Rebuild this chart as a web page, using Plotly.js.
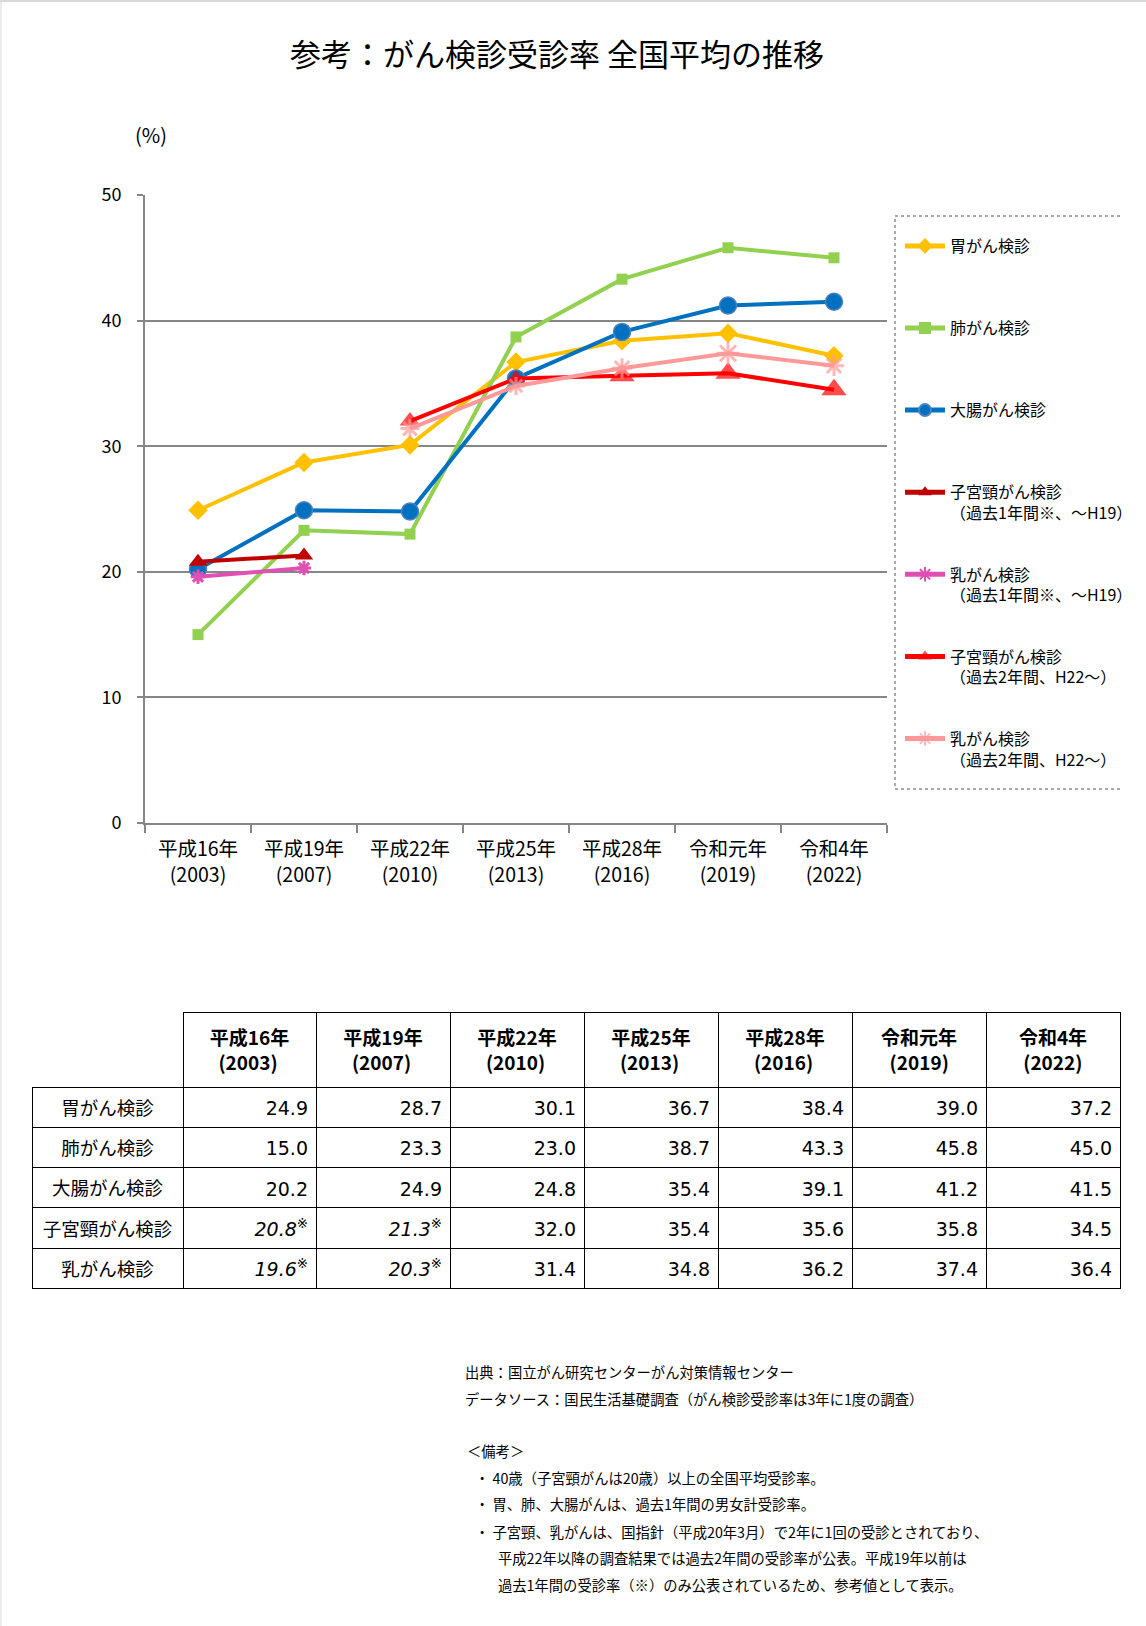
<!DOCTYPE html>
<html><head><meta charset="utf-8">
<script src="https://cdn.plot.ly/plotly-3.0.1.min.js"></script>
<style>body{margin:0;background:#fff}#chart{width:1146px;height:1626px}</style>
</head><body><div id="chart"></div>
<script>
// ---- data ----
const periodLabels = ['平成16年', '平成19年', '平成22年', '平成25年', '平成28年', '令和元年', '令和4年'];
const periodYears = ['(2003)', '(2007)', '(2010)', '(2013)', '(2016)', '(2019)', '(2022)'];
const stomach    = [24.9, 28.7, 30.1, 36.7, 38.4, 39.0, 37.2];
const lung       = [15.0, 23.3, 23.0, 38.7, 43.3, 45.8, 45.0];
const colorectal = [20.2, 24.9, 24.8, 35.4, 39.1, 41.2, 41.5];
const cervix1y   = [20.8, 21.3, null, null, null, null, null];
const breast1y   = [19.6, 20.3, null, null, null, null, null];
const cervix2y   = [null, null, 32.0, 35.4, 35.6, 35.8, 34.5];
const breast2y   = [null, null, 31.4, 34.8, 36.2, 37.4, 36.4];
const rowLabels  = ['胃がん検診', '肺がん検診', '大腸がん検診', '子宮頸がん検診', '乳がん検診'];
const legendNames = [
  '胃がん検診', '肺がん検診', '大腸がん検診',
  '子宮頸がん検診<br>（過去1年間※、～H19）',
  '乳がん検診<br>（過去1年間※、～H19）',
  '子宮頸がん検診<br>（過去2年間、H22～）',
  '乳がん検診<br>（過去2年間、H22～）'
];
const notes = [
  '出典：国立がん研究センターがん対策情報センター',
  'データソース：国民生活基礎調査（がん検診受診率は3年に1度の調査）',
  '＜備考＞',
  '・ 40歳（子宮頸がんは20歳）以上の全国平均受診率。',
  '・ 胃、肺、大腸がんは、過去1年間の男女計受診率。',
  '・ 子宮頸、乳がんは、国指針（平成20年3月）で2年に1回の受診とされており、',
  '平成22年以降の調査結果では過去2年間の受診率が公表。平成19年以前は',
  '過去1年間の受診率（※）のみ公表されているため、参考値として表示。'
];
const titleText = '参考：がん検診受診率 全国平均の推移';

// ---- layout helpers ----
const W = 1146, H = 1626;
const px = x => x / W;
const py = y => 1 - y / H;
const FONT = 'Noto Sans CJK JP, Noto Sans, sans-serif';
const NUMFONT = 'DejaVu Sans, Noto Sans CJK JP, sans-serif';

const cats = periodLabels.map((p, i) => p + '<br>' + periodYears[i]);

const seriesList = [
  {y: stomach,    color: '#FFC000', symbol: 'diamond', size: 15},
  {y: lung,       color: '#92D050', symbol: 'square', size: 11},
  {y: colorectal, color: '#0070C0', symbol: 'circle', size: 17, lineColor: '#4F81BD'},
  {y: cervix1y,   color: '#C00000', symbol: 'triangle-up', size: 16},
  {y: breast1y,   color: '#E050B4', symbol: 'asterisk-open', size: 12},
  {y: cervix2y,   color: '#FF0000', symbol: 'triangle-up', size: [0, 0, 18, 17, 22, 22, 22]},
  {y: breast2y,   color: '#FF9999', symbol: 'asterisk-open', size: [0, 0, 16, 15, 17, 19, 17]}
];

const traces = seriesList.map((s, i) => {
  const isAst = s.symbol.indexOf('asterisk') === 0;
  const nm = legendNames[i].indexOf('<br>') < 0 ? legendNames[i] + '<br>\u00a0' : legendNames[i];
  return {
    type: 'scatter', mode: 'lines+markers', x: cats, y: s.y, name: nm,
    legendgroup: 'g' + i, connectgaps: false, cliponaxis: false,
    line: {color: s.color, width: 4},
    marker: {symbol: s.symbol, size: s.size, color: s.color,
      line: {color: isAst ? s.color : (s.lineColor || s.color), width: isAst ? 3 : (s.lineColor ? 1.5 : 0)}},
    xaxis: 'x', yaxis: 'y', hoverinfo: 'skip'
  };
});

// ---- table ----
const HDR_SIZE = 19;
const ctx = document.createElement('canvas').getContext('2d');
ctx.font = 'bold ' + HDR_SIZE + 'px "Noto Sans CJK JP"';
const nbspW = ctx.measureText('\u00a0').width || HDR_SIZE * 0.25;
function centredHeader(a, b) {
  const diff = ctx.measureText(a).width - ctx.measureText(b).width;
  const n = Math.max(0, Math.round(diff / 2 / nbspW));
  return '<b>' + a + '<br>' + '\u00a0'.repeat(n) + b + '</b>';
}
// invisible raised glyph: pushes the number text down towards the vertical centre
const LIFT = '<sup>\u2800</sup>';
function fmt(v, isRef) {
  const t = v.toFixed(1);
  return LIFT + (isRef ? '<i>' + t + '</i><sup>※</sup>' : t);
}
const blankCol = rowLabels.map(() => '');
const cellCols = [blankCol];
for (let i = 0; i < periodLabels.length; i++) {
  const cv = cervix2y[i] !== null ? fmt(cervix2y[i], false) : fmt(cervix1y[i], true);
  const bv = breast2y[i] !== null ? fmt(breast2y[i], false) : fmt(breast1y[i], true);
  cellCols.push([fmt(stomach[i], false), fmt(lung[i], false), fmt(colorectal[i], false), cv, bv]);
}
const headerVals = [''].concat(periodLabels.map((p, i) => centredHeader(p, periodYears[i])));
const headerBlank = headerVals.map(() => '');
const headerLine = ['rgba(0,0,0,0)'].concat(periodLabels.map(() => '#000'));
const colWidths = [151, 133, 134, 134, 134, 134, 134, 134];
const numAlign = ['center'].concat(periodLabels.map(() => 'right'));

// grid + numbers
traces.push({
  type: 'table',
  domain: {x: [px(32), px(1120)], y: [py(1330), py(1012)]},
  columnwidth: colWidths,
  header: {
    values: headerBlank, align: 'center', height: 75,
    fill: {color: '#fff'},
    line: {color: headerLine, width: 1},
    font: {family: FONT, size: HDR_SIZE, color: '#000'}
  },
  cells: {
    values: cellCols, align: numAlign, height: 40.3,
    fill: {color: '#fff'},
    line: {color: '#000', width: 1},
    font: {family: NUMFONT, size: 19, color: '#000'}
  }
});
// header texts and row labels, laid over the same grid (nudged down to sit centred)
traces.push({
  type: 'table',
  domain: {x: [px(32), px(1120)], y: [py(1330), py(1015)]},
  columnwidth: colWidths,
  header: {
    values: headerVals, align: 'center', height: 78,
    fill: {color: 'rgba(0,0,0,0)'},
    line: {color: 'rgba(0,0,0,0)', width: 0},
    font: {family: FONT, size: HDR_SIZE, color: '#000'}
  },
  cells: {
    values: [rowLabels].concat(periodLabels.map(() => blankCol)), align: 'center', height: 40.3,
    fill: {color: 'rgba(0,0,0,0)'},
    line: {color: 'rgba(0,0,0,0)', width: 0},
    font: {family: FONT, size: 18.5, color: '#000'}
  }
});

// ---- annotations ----
const noteY = [1371, 1398, 1450, 1477, 1503, 1531, 1557, 1584];
const noteX = [463, 463, 465, 473, 473, 473, 496, 496];
const annotations = [
  {text: titleText, x: px(557), y: py(52), xref: 'paper', yref: 'paper', showarrow: false,
   xanchor: 'center', yanchor: 'middle', font: {family: FONT, size: 31, color: '#000'}},
  {text: '(%)', x: px(151), y: py(134), xref: 'paper', yref: 'paper', showarrow: false,
   xanchor: 'center', yanchor: 'middle', font: {family: FONT, size: 20, color: '#000'}}
];
notes.forEach((t, i) => annotations.push({
  text: t, x: px(noteX[i]), y: py(noteY[i]), xref: 'paper', yref: 'paper', showarrow: false,
  xanchor: 'left', yanchor: 'middle', align: 'left', font: {family: FONT, size: 14.3, color: '#000'}
}));

const shapes = [
  {type: 'path', xref: 'paper', yref: 'paper',
   path: `M ${px(1120)} ${py(216)} L ${px(895)} ${py(216)} L ${px(895)} ${py(789)} L ${px(1120)} ${py(789)}`,
   line: {color: '#555', width: 1, dash: 'dot'}},
  {type: 'line', xref: 'paper', yref: 'paper', x0: 0, x1: 1, y0: py(1), y1: py(1), line: {color: '#d9d9d9', width: 2}},
  {type: 'line', xref: 'paper', yref: 'paper', x0: px(1), x1: px(1), y0: 0, y1: 1, line: {color: '#d9d9d9', width: 1}}
];

const layout = {
  width: W, height: H,
  margin: {l: 0, r: 0, t: 0, b: 0},
  paper_bgcolor: '#fff', plot_bgcolor: '#fff',
  font: {family: FONT, color: '#000'},
  xaxis: {
    domain: [px(145), px(887)], type: 'category', range: [-0.5, 6.5],
    showgrid: false, zeroline: false, showline: true, linecolor: '#868686', linewidth: 2,
    ticks: 'outside', tickson: 'boundaries', ticklen: 8, tickcolor: '#868686', tickwidth: 2,
    ticklabelstandoff: 8,
    tickfont: {family: FONT, size: 19.5, color: '#000'}, fixedrange: true
  },
  yaxis: {
    domain: [py(823), py(195)], range: [0, 50], dtick: 10,
    showgrid: true, gridcolor: '#868686', gridwidth: 2, zeroline: false,
    showline: true, linecolor: '#868686', linewidth: 2,
    ticks: 'outside', ticklen: 6, tickcolor: '#868686', tickwidth: 2,
    ticklabelstandoff: 12,
    tickfont: {family: FONT, size: 18, color: '#000'}, fixedrange: true
  },
  showlegend: true,
  legend: {
    x: px(900), y: py(229), xanchor: 'left', yanchor: 'top',
    bgcolor: 'rgba(0,0,0,0)', borderwidth: 0,
    font: {family: FONT, size: 16, color: '#000'},
    tracegroupgap: 37.5, valign: 'top', itemsizing: 'constant', itemwidth: 40
  },
  annotations: annotations,
  shapes: shapes
};

Plotly.newPlot('chart', traces, layout, {displayModeBar: false, staticPlot: true});
</script>
</body></html>
